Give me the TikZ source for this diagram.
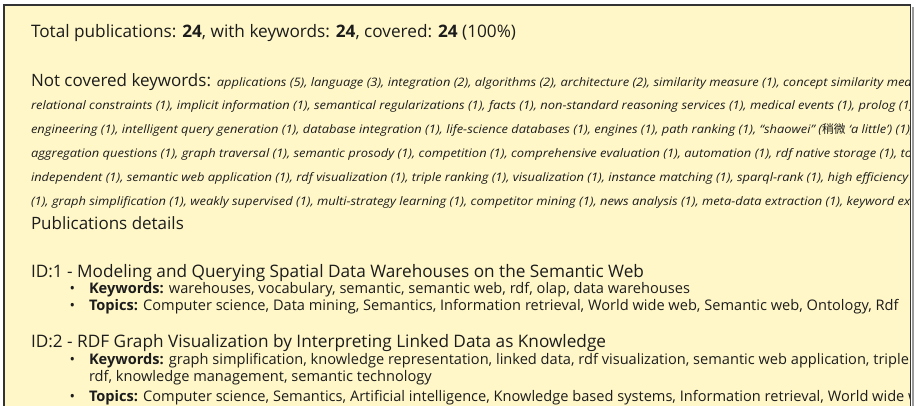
\documentclass[tikz,border=0pt]{standalone}
\usepackage{fontspec}
\setmainfont{Open Sans}
\newfontfamily\wideit[FakeStretch=1.1]{Open Sans}
\newfontfamily\cjk{Noto Sans CJK SC}
\definecolor{paper}{HTML}{FFF7C8}
\definecolor{ink}{HTML}{1C1C1C}
\definecolor{framec}{HTML}{333333}
\definecolor{shadowc}{HTML}{9A9A9A}
\tikzset{
  txt/.style={inner sep=0pt, outer sep=0pt, anchor=base west, text=ink},
  headfont/.style={font=\fontsize{17.2}{20}\selectfont},
  kwline/.style={font=\wideit\fontsize{11.73}{14}\selectfont\itshape},
  secfont/.style={font=\fontsize{17}{20}\selectfont},
  idfont/.style={font=\fontsize{17.2}{21}\selectfont},
  itemfont/.style={font=\fontsize{14.6}{17}\selectfont},
}
\begin{document}
\begin{tikzpicture}[x=1pt,y=-1pt]
\useasboundingbox (0,0) rectangle (916,406);
\fill[white] (0,0) rectangle (916,406);
\fill[shadowc] (911.5,7) rectangle (914,406);
\draw[framec, line width=1.6pt, fill=paper] (4,5) rectangle (910.5,420);
\begin{scope}
\clip (5,6) rectangle (909.5,406);
\node[txt, headfont] (total) at (31,37.7) {Total publications: \textbf{24}, with keywords: \textbf{24}, covered: \textbf{24} (100\%)};
\node[txt] (nck) at (31,86.7) {{\fontsize{17}{20}\selectfont Not covered keywords: }{\wideit\fontsize{11.73}{14}\selectfont\itshape applications (5), language (3), integration (2), algorithms (2), architecture (2), similarity measure (1), concept similarity measure (1),}};
\node[txt, kwline] (k2) at (31,109.5) {relational constraints (1), implicit information (1), semantical regularizations (1), facts (1), non-standard reasoning services (1), medical events (1), prolog (1), rules (1)};
\node[txt, kwline] (k3) at (31,133.5) {engineering (1), intelligent query generation (1), database integration (1), life-science databases (1), engines (1), path ranking (1), “shaowei” ({\cjk\upshape 稍微} ‘a little’) (1), words (1)};
\node[txt, kwline] (k4) at (31,157.8) {aggregation questions (1), graph traversal (1), semantic prosody (1), competition (1), comprehensive evaluation (1), automation (1), rdf native storage (1), top-k (1)};
\node[txt, kwline] (k5) at (31,182) {independent (1), semantic web application (1), rdf visualization (1), triple ranking (1), visualization (1), instance matching (1), sparql-rank (1), high efficiency};
\node[txt, kwline] (k6) at (31,205.5) {(1), graph simplification (1), weakly supervised (1), multi-strategy learning (1), competitor mining (1), news analysis (1), meta-data extraction (1), keyword extraction (1)};
\node[txt, secfont] (pd) at (31,230) {Publications details};
\node[txt, idfont] (id1) at (31,278) {ID:1 - Modeling and Querying Spatial Data Warehouses on the Semantic Web};
\node[txt, itemfont] (b11) at (69.5,294) {•};
\node[txt, itemfont] (i11) at (89,294) {\textbf{Keywords:} warehouses, vocabulary, semantic, semantic web, rdf, olap, data warehouses};
\node[txt, itemfont] (b12) at (69.5,310.5) {•};
\node[txt, itemfont] (i12) at (89,310.5) {\textbf{Topics:} Computer science, Data mining, Semantics, Information retrieval, World wide web, Semantic web, Ontology, Rdf};
\node[txt, idfont] (id2) at (31,347) {ID:2 - RDF Graph Visualization by Interpreting Linked Data as Knowledge};
\node[txt, itemfont] (b21) at (69.5,364) {•};
\node[txt, itemfont] (i21) at (89,364) {\textbf{Keywords:} graph simplification, knowledge representation, linked data, rdf visualization, semantic web application, triple ranking,};
\node[txt, itemfont] (i21b) at (89,381) {rdf, knowledge management, semantic technology};
\node[txt, itemfont] (b22) at (69.5,401.5) {•};
\node[txt, itemfont] (i22) at (89,401.5) {\textbf{Topics:} Computer science, Semantics, Artificial intelligence, Knowledge based systems, Information retrieval, World wide web};
\end{scope}
\end{tikzpicture}
\end{document}
